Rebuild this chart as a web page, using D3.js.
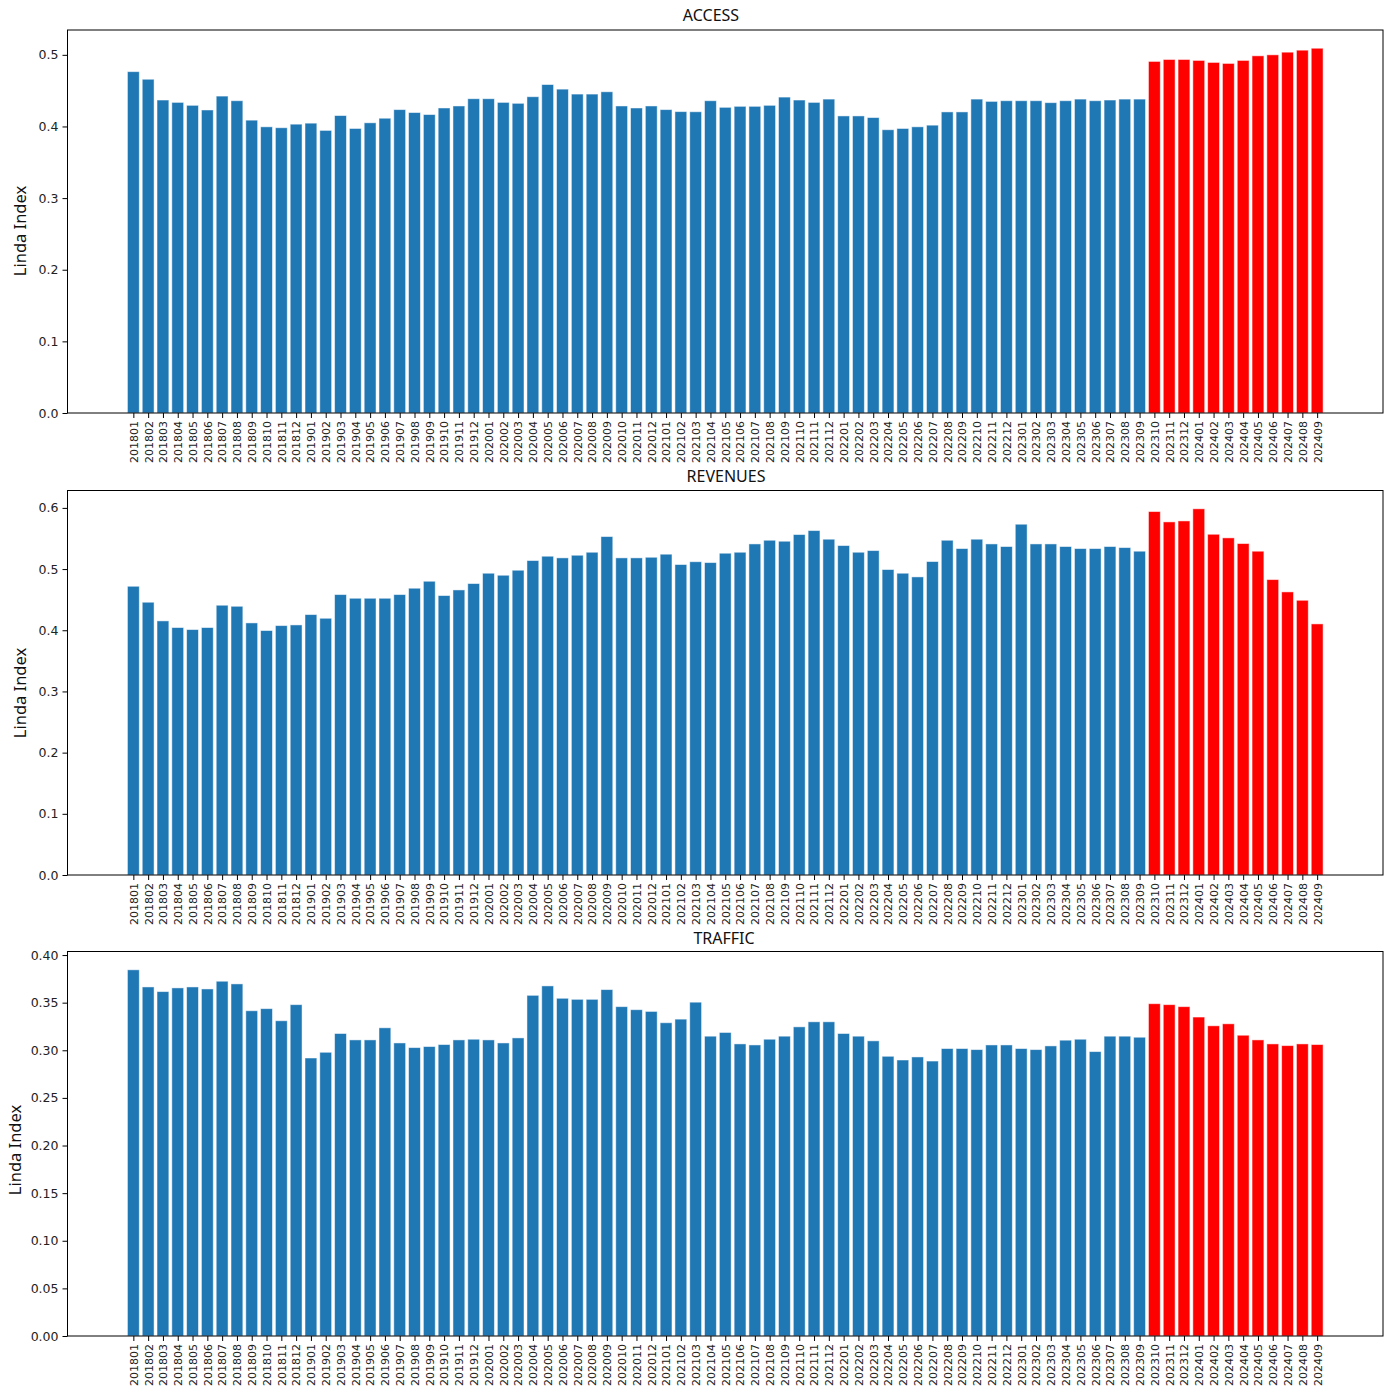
<!DOCTYPE html>
<html>
<head>
<meta charset="utf-8">
<script src="https://cdn.jsdelivr.net/npm/d3@7"></script>
<style>
  html, body { margin: 0; padding: 0; background: #fff; }
  svg { display: block; }
</style>
</head>
<body>
<svg id="chart" width="1391" height="1386"></svg>
<script>
// Monthly periods shown on every x axis
const months = [
  "201801","201802","201803","201804","201805","201806","201807","201808","201809","201810","201811","201812",
  "201901","201902","201903","201904","201905","201906","201907","201908","201909","201910","201911","201912",
  "202001","202002","202003","202004","202005","202006","202007","202008","202009","202010","202011","202012",
  "202101","202102","202103","202104","202105","202106","202107","202108","202109","202110","202111","202112",
  "202201","202202","202203","202204","202205","202206","202207","202208","202209","202210","202211","202212",
  "202301","202302","202303","202304","202305","202306","202307","202308","202309","202310","202311","202312",
  "202401","202402","202403","202404","202405","202406","202407","202408","202409"
];

// Periods from this month on are drawn in the highlight colour
const highlightFrom = "202310";

const access = [
  0.4765,0.4659,0.4369,0.4336,0.4295,0.4230,0.4424,0.4359,0.4088,0.3995,0.3982,0.4032,
  0.4046,0.3945,0.4152,0.3972,0.4051,0.4115,0.4235,0.4194,0.4166,0.4258,0.4286,0.4387,
  0.4387,0.4336,0.4323,0.4415,0.4585,0.4521,0.4452,0.4452,0.4484,0.4286,0.4258,0.4286,
  0.4235,0.4207,0.4205,0.4359,0.4267,0.4281,0.4281,0.4295,0.4410,0.4369,0.4336,0.4382,
  0.4147,0.4147,0.4124,0.3954,0.3972,0.3995,0.4018,0.4203,0.4203,0.4382,0.4350,0.4359,
  0.4359,0.4359,0.4332,0.4359,0.4382,0.4359,0.4369,0.4382,0.4382,0.4908,0.4935,0.4935,
  0.4922,0.4894,0.4880,0.4922,0.4986,0.5000,0.5037,0.5065,0.5092
];

const revenues = [
  0.4719,0.4458,0.4153,0.4044,0.4011,0.4044,0.4409,0.4392,0.4120,0.3995,0.4076,0.4087,
  0.4256,0.4196,0.4583,0.4523,0.4523,0.4523,0.4583,0.4687,0.4801,0.4567,0.4659,0.4763,
  0.4932,0.4899,0.4981,0.5139,0.5210,0.5183,0.5226,0.5275,0.5531,0.5183,0.5183,0.5193,
  0.5243,0.5074,0.5120,0.5106,0.5259,0.5275,0.5411,0.5471,0.5455,0.5564,0.5629,0.5488,
  0.5384,0.5275,0.5302,0.4992,0.4932,0.4872,0.5123,0.5471,0.5335,0.5488,0.5411,0.5368,
  0.5733,0.5411,0.5411,0.5368,0.5335,0.5335,0.5368,0.5351,0.5292,0.5940,0.5771,0.5787,
  0.5985,0.5569,0.5510,0.5417,0.5292,0.4828,0.4627,0.4490,0.4104
];

const traffic = [
  0.3845,0.3665,0.3616,0.3655,0.3665,0.3644,0.3725,0.3697,0.3415,0.3437,0.3310,0.3479,
  0.2919,0.2979,0.3176,0.3109,0.3109,0.3236,0.3077,0.3028,0.3039,0.3060,0.3109,0.3116,
  0.3109,0.3077,0.3130,0.3577,0.3676,0.3546,0.3535,0.3535,0.3637,0.3458,0.3426,0.3408,
  0.3289,0.3327,0.3505,0.3148,0.3187,0.3067,0.3056,0.3116,0.3148,0.3246,0.3299,0.3299,
  0.3176,0.3148,0.3099,0.2937,0.2898,0.2930,0.2887,0.3018,0.3018,0.3007,0.3056,0.3056,
  0.3018,0.3007,0.3046,0.3106,0.3116,0.2986,0.3148,0.3148,0.3137,0.3489,0.3479,0.3458,
  0.3349,0.3257,0.3278,0.3158,0.3109,0.3067,0.3049,0.3067,0.3060
];

const panelTitles = ["ACCESS", "REVENUES", "TRAFFIC"];
const yLabel = "Linda Index";
const yTickStep = [0.1, 0.1, 0.05];
const yTickFormat = [".1f", ".1f", ".2f"];

// Layout of the three stacked panels
const panels = [
  { values: access,   top: 30,    bottom: 413,  titleX: 711, titleY: 20.5, labelX: 26, labelY: 231 },
  { values: revenues, top: 490.5, bottom: 875,  titleX: 726, titleY: 482,  labelX: 26, labelY: 693 },
  { values: traffic,  top: 951.5, bottom: 1336, titleX: 724, titleY: 944,  labelX: 21, labelY: 1150 }
];
const left = 67.5, right = 1383;
const blue = "#1f77b4", red = "#ff0000";

const svg = d3.select("#chart");
svg.append("rect").attr("width", 1391).attr("height", 1386).attr("fill", "#fff");

const idx = months.map((m, i) => i);
const hiStart = months.indexOf(highlightFrom);
const pad = 4.45;
const x = d3.scaleLinear().domain([-pad, months.length - 1 + pad]).range([left, right]);
const barW = 0.8 * (x(1) - x(0));

panels.forEach((p, k) => {
  const vmax = d3.max(p.values);
  const y = d3.scaleLinear().domain([0, vmax * 1.05]).range([p.bottom, p.top]);
  const g = svg.append("g");

  // bars
  g.selectAll("rect.bar")
    .data(p.values)
    .join("rect")
    .attr("class", "bar")
    .attr("x", (d, i) => x(i) - barW / 2)
    .attr("width", barW)
    .attr("y", d => y(d))
    .attr("height", d => y(0) - y(d))
    .attr("fill", (d, i) => i >= hiStart ? red : blue)
    .attr("stroke", "#ffffff")
    .attr("stroke-width", 0.9)
    .attr("stroke-opacity", 0.55);

  // y axis
  const yTicks = d3.range(0, vmax * 1.05 + 1e-9, yTickStep[k]);
  const yAxis = d3.axisLeft(y)
    .tickValues(yTicks)
    .tickFormat(d3.format(yTickFormat[k]))
    .tickSize(5)
    .tickPadding(4);
  const ya = g.append("g").attr("transform", `translate(${left},0)`).call(yAxis);
  ya.select(".domain").remove();
  ya.selectAll("line").attr("stroke", "#000").attr("stroke-width", 1);
  ya.selectAll("text")
    .attr("font-family", "DejaVu Sans")
    .attr("font-size", "12.5px")
    .attr("fill", "#222");

  // x axis with vertical month labels
  const xAxis = d3.axisBottom(x)
    .tickValues(idx)
    .tickFormat(i => months[i])
    .tickSize(5)
    .tickPadding(3);
  const xa = g.append("g").attr("transform", `translate(0,${p.bottom})`).call(xAxis);
  xa.select(".domain").remove();
  xa.selectAll("line").attr("stroke", "#000").attr("stroke-width", 1);
  xa.selectAll("text")
    .attr("font-family", "DejaVu Sans")
    .attr("font-size", "11px")
    .attr("fill", "#222")
    .attr("transform", "rotate(-90)")
    .attr("text-anchor", "end")
    .attr("x", -8)
    .attr("y", 0)
    .attr("dy", "0.35em");

  // frame
  g.append("rect")
    .attr("x", left).attr("y", p.top)
    .attr("width", right - left).attr("height", p.bottom - p.top)
    .attr("fill", "none")
    .attr("stroke", "#000")
    .attr("stroke-width", 1);

  // title
  g.append("text")
    .attr("x", p.titleX).attr("y", p.titleY)
    .attr("text-anchor", "middle")
    .attr("font-family", "Noto Sans")
    .attr("font-size", "16px")
    .attr("fill", "#111")
    .text(panelTitles[k]);

  // y label
  g.append("text")
    .attr("transform", `translate(${p.labelX},${p.labelY}) rotate(-90)`)
    .attr("text-anchor", "middle")
    .attr("font-family", "Noto Sans")
    .attr("font-size", "16.5px")
    .attr("fill", "#111")
    .text(yLabel);
});
</script>
</body>
</html>
